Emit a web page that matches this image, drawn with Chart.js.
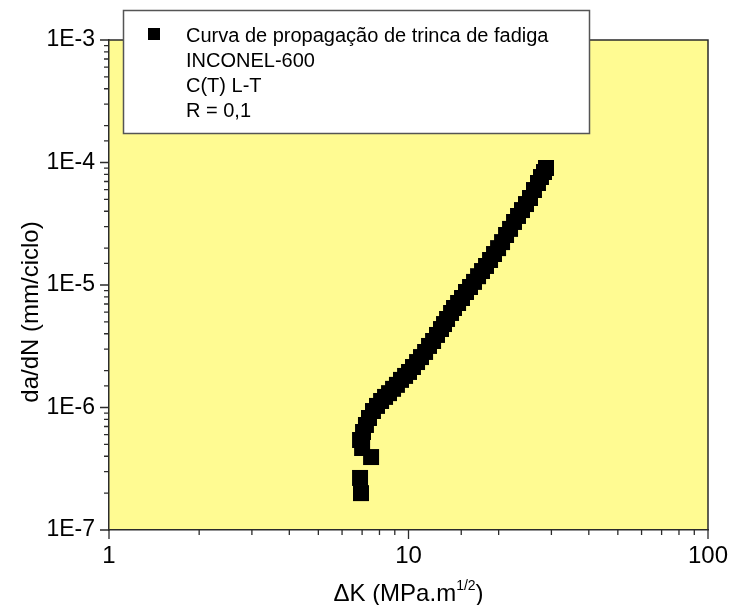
<!DOCTYPE html>
<html>
<head>
<meta charset="utf-8">
<script src="https://cdn.jsdelivr.net/npm/chart.js@4.4.0/dist/chart.umd.min.js"></script>
<style>
  html, body { margin: 0; padding: 0; background: #ffffff; }
  #wrap { width: 731px; height: 605px; }
</style>
</head>
<body>
<div id="wrap"><canvas id="fatigueChart" width="731" height="605"></canvas></div>
<script>
// valores (ΔK em MPa.m^1/2, da/dN em mm/ciclo)
const deltaK = [
  6.94, 6.89, 7.50, 7.00, 6.89, 7.05, 7.21, 7.38, 7.61, 7.85,
  8.10, 8.35, 8.61, 8.88, 9.15, 9.44, 9.74, 10.04, 10.35, 10.68,
  11.01, 11.36, 11.71, 12.08, 12.45, 12.84, 13.14, 13.45, 13.87, 14.19,
  14.64, 15.09, 15.56, 16.05, 16.55, 17.07, 17.60, 18.15, 18.72, 19.30,
  19.91, 20.53, 21.17, 21.83, 22.51, 23.21, 23.93, 24.68, 25.45, 26.24,
  27.06, 27.69, 28.34, 28.78
];
const dadN = [
  2.00e-7, 2.66e-7, 3.94e-7, 4.67e-7, 5.43e-7, 6.31e-7, 7.20e-7, 8.21e-7, 9.36e-7, 1.03e-6,
  1.13e-6, 1.22e-6, 1.31e-6, 1.42e-6, 1.53e-6, 1.68e-6, 1.81e-6, 1.95e-6, 2.14e-6, 2.35e-6,
  2.58e-6, 2.84e-6, 3.18e-6, 3.49e-6, 3.91e-6, 4.37e-6, 4.80e-6, 5.28e-6, 5.91e-6, 6.49e-6,
  7.13e-6, 7.83e-6, 8.77e-6, 9.63e-6, 1.06e-5, 1.18e-5, 1.30e-5, 1.43e-5, 1.60e-5, 1.79e-5,
  2.00e-5, 2.24e-5, 2.56e-5, 2.87e-5, 3.27e-5, 3.66e-5, 4.09e-5, 4.58e-5, 5.13e-5, 5.96e-5,
  6.80e-5, 7.61e-5, 8.36e-5, 9.02e-5
];

const xTickValues = [1, 10, 100];
const xTickLabels = ["1", "10", "100"];
const yTickValues = [1e-7, 1e-6, 1e-5, 1e-4, 1e-3];
const yTickLabels = ["1E-7", "1E-6", "1E-5", "1E-4", "1E-3"];

const legendLines = [
  "Curva de propagação de trinca de fadiga",
  "INCONEL-600",
  "C(T) L-T",
  "R = 0,1",
];
const yTitle = "da/dN (mm/ciclo)";
const xTitle = "ΔK (MPa.m";
const xTitleSup = "1/2";

const FONT = "'Liberation Sans', Arial, Helvetica, sans-serif";
const AXIS_COLOR = "#2b2b2b";

function labelFor(value, values, labels) {
  for (let i = 0; i < values.length; i++) {
    if (Math.abs(Math.log10(value) - Math.log10(values[i])) < 1e-6) return labels[i];
  }
  return "";
}

function isDecade(value) {
  const l = Math.log10(value);
  return Math.abs(l - Math.round(l)) < 1e-6;
}

const framePlugin = {
  id: "frame",
  beforeDraw(chart) {
    const { ctx, chartArea: a } = chart;
    ctx.save();
    ctx.fillStyle = "#fffb92";
    ctx.fillRect(a.left, a.top, a.right - a.left, a.bottom - a.top);
    ctx.restore();
  },
  afterDraw(chart) {
    const { ctx, chartArea: a } = chart;
    const xs = chart.scales.x;
    const ys = chart.scales.y;
    ctx.save();
    ctx.strokeStyle = AXIS_COLOR;
    ctx.lineWidth = 1.5;

    // borda de cima e da direita
    ctx.beginPath();
    ctx.moveTo(a.left, a.top);
    ctx.lineTo(a.right, a.top);
    ctx.lineTo(a.right, a.bottom);
    ctx.stroke();

    // marcas dos eixos
    ctx.lineWidth = 1.3;
    ctx.beginPath();
    xs.ticks.forEach((t) => {
      const p = xs.getPixelForValue(t.value);
      const len = isDecade(t.value) ? 9 : 5;
      ctx.moveTo(p, a.bottom);
      ctx.lineTo(p, a.bottom + len);
    });
    ys.ticks.forEach((t) => {
      const p = ys.getPixelForValue(t.value);
      const len = isDecade(t.value) ? 9 : 5;
      ctx.moveTo(a.left, p);
      ctx.lineTo(a.left - len, p);
    });
    ctx.stroke();

    // titulos dos eixos
    ctx.fillStyle = "#000";
    ctx.font = "24px " + FONT;
    ctx.textBaseline = "alphabetic";
    ctx.save();
    ctx.translate(38, 312);
    ctx.rotate(-Math.PI / 2);
    ctx.textAlign = "center";
    ctx.fillText(yTitle, 0, 0);
    ctx.restore();

    ctx.font = "24px " + FONT;
    const w1 = ctx.measureText(xTitle).width;
    ctx.font = "14px " + FONT;
    const w2 = ctx.measureText(xTitleSup).width;
    ctx.font = "24px " + FONT;
    const w3 = ctx.measureText(")").width;
    let x = (a.left + a.right) / 2 - (w1 + w2 + w3) / 2;
    const base = 601;
    ctx.textAlign = "left";
    ctx.fillText(xTitle, x, base);
    x += w1;
    ctx.font = "14px " + FONT;
    ctx.fillText(xTitleSup, x, base - 11);
    x += w2;
    ctx.font = "24px " + FONT;
    ctx.fillText(")", x, base);

    // caixa da legenda
    ctx.fillStyle = "#ffffff";
    ctx.fillRect(123, 10, 467, 124);
    ctx.strokeStyle = "#555555";
    ctx.lineWidth = 1.5;
    ctx.strokeRect(123.5, 10.5, 466, 123);

    ctx.fillStyle = "#000";
    ctx.fillRect(148, 28, 12, 12);
    ctx.font = "20px " + FONT;
    legendLines.forEach((line, i) => {
      ctx.fillText(line, 186, 42 + i * 25);
    });
    ctx.restore();
  },
};

const ctx = document.getElementById("fatigueChart");

new Chart(ctx, {
  type: "scatter",
  data: {
    datasets: [
      {
        label: legendLines[0],
        data: deltaK.map((k, i) => ({ x: k, y: dadN[i] })),
        pointStyle: "rect",
        pointRadius: 11.3,
        pointHoverRadius: 11.3,
        backgroundColor: "#000000",
        borderWidth: 0,
        showLine: false,
      },
    ],
  },
  options: {
    responsive: false,
    animation: false,
    devicePixelRatio: 1,
    layout: {
      padding: { top: 40, right: 23, left: 0, bottom: 0 },
    },
    scales: {
      x: {
        type: "logarithmic",
        min: 1,
        max: 100,
        grid: { display: false, drawTicks: false },
        border: { display: true, color: AXIS_COLOR, width: 1.5 },
        ticks: {
          autoSkip: false,
          maxRotation: 0,
          padding: 12,
          color: "#000",
          font: { size: 24, family: FONT },
          callback: (v) => labelFor(v, xTickValues, xTickLabels),
        },
        afterFit: (scale) => {
          scale.height = 75;
          scale.paddingLeft = 0;
          scale.paddingRight = 0;
        },
      },
      y: {
        type: "logarithmic",
        min: 1e-7,
        max: 1e-3,
        grid: { display: false, drawTicks: false },
        border: { display: true, color: AXIS_COLOR, width: 1.5 },
        ticks: {
          autoSkip: false,
          padding: 14,
          color: "#000",
          font: { size: 23, family: FONT },
          callback: (v) => labelFor(v, yTickValues, yTickLabels),
        },
        afterFit: (scale) => {
          scale.width = 109;
          scale.paddingTop = 0;
          scale.paddingBottom = 0;
        },
      },
    },
    plugins: {
      legend: { display: false },
      tooltip: { enabled: false },
    },
  },
  plugins: [framePlugin],
});
</script>
</body>
</html>
